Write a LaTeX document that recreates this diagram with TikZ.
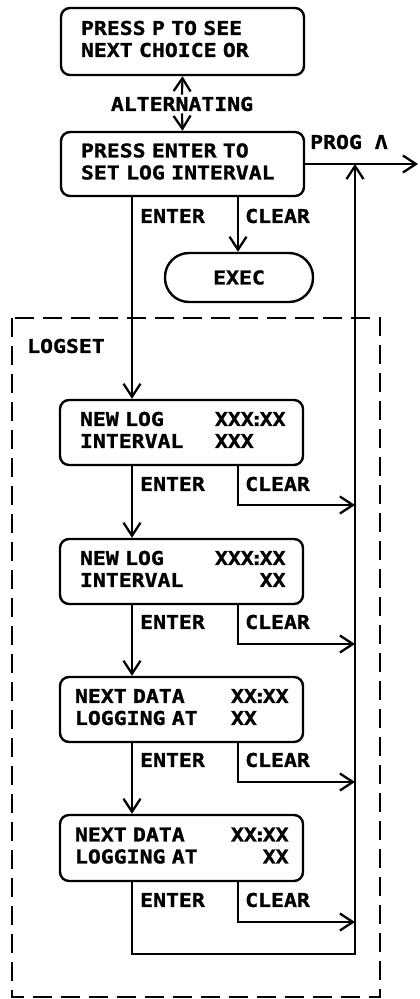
\documentclass[tikz,border=0pt]{standalone}
\usepackage{fontspec}
\usetikzlibrary{arrows.meta}
% display-style lettering: a bold monospace, slightly widened and heavier
\newfontfamily\lcd[FakeStretch=1.13, FakeBold=1.2]{DejaVu Sans Mono Bold}
% fixed character pitch for spaces as well
\newcommand\lcdfont{\lcd\fontsize{19}{22}\selectfont\spaceskip=12.9pt\relax}
\newcommand\clr{\kern-3.5pt:\kern-3.5pt}

\begin{document}
\begin{tikzpicture}[x=1pt,y=-1pt,
  font=\lcdfont,
  lcdbox/.style={draw, line width=2.4pt, rounded corners=9pt,
    minimum width=243pt, minimum height=65pt,
    inner xsep=20pt, text width=203pt, align=left},
  wide/.style={inner xsep=15pt, text width=213pt},
  wire/.style={line width=2.1pt},
  arr/.style={wire, -{Straight Barb[length=13pt,width=17pt,line width=2.3pt]}},
  lbl/.style={anchor=west, inner sep=0pt},
  frame/.style={line width=2.4pt, dash pattern=on 19pt off 9pt},
]
\useasboundingbox (0,0) rectangle (420,999);

% columns used by the connectors
\coordinate (ex) at (132,0);
\coordinate (cx) at (238,0);
\coordinate (rx) at (355,0);

% selection screens
\node[lcdbox, minimum height=67pt] (b1) at (182.5,41.5)
  {\begin{tabular}{@{}l@{}}PRESS P TO SEE\\NEXT CHOICE OR\end{tabular}};
\node[inner sep=2pt] (alt) at (182,104) {ALTERNATING};
\node[lcdbox, minimum height=64pt] (b2) at (182.5,164)
  {\begin{tabular}{@{}l@{}}PRESS ENTER TO\\SET LOG INTERVAL\end{tabular}};
\draw[arr] (alt.north) -- (b1.south);
\draw[arr] (alt.south) -- (b2.north);

\node[lbl] (prog) at (310,142) {PROG Λ};
\coordinate (out) at (418,164);
\draw[arr] (b2.east) -- (out);

\node[draw, line width=2.4pt, rounded corners=24pt,
  minimum width=148pt, minimum height=49pt] (exec) at (239,277.5) {EXEC};

% LOGSET group
\draw[frame] (12,318) rectangle (380,997);
\node[lbl] (logset) at (27,346) {LOGSET};

\node[lcdbox] (b3) at (181.5,432.5)
  {\begin{tabular}{@{}p{135pt}@{}l@{}}NEW LOG & XXX\clr XX\\INTERVAL & XXX\end{tabular}};
\node[lcdbox] (b4) at (181.5,571.5)
  {\begin{tabular}{@{}p{135pt}@{}r@{}}NEW LOG & XXX\clr XX\\INTERVAL & XX\end{tabular}};
\node[lcdbox, wide] (b5) at (181.5,709.5)
  {\begin{tabular}{@{}p{156pt}@{}l@{}}NEXT DATA & XX\clr XX\\LOGGING AT & XX\end{tabular}};
\node[lcdbox, wide, minimum height=66pt] (b6) at (181.5,848)
  {\begin{tabular}{@{}p{156pt}@{}r@{}}NEXT DATA & XX\clr XX\\LOGGING AT & XX\end{tabular}};

% key labels
\node[lbl] (e2) at (140,216) {ENTER};
\node[lbl] (k2) at (245,216) {CLEAR};
\node[lbl] (e3) at (140,484) {ENTER};
\node[lbl] (k3) at (245,484) {CLEAR};
\node[lbl] (e4) at (140,622) {ENTER};
\node[lbl] (k4) at (245,622) {CLEAR};
\node[lbl] (e5) at (140,760) {ENTER};
\node[lbl] (k5) at (245,760) {CLEAR};
\node[lbl] (e6) at (140,900) {ENTER};
\node[lbl] (k6) at (245,900) {CLEAR};

% ENTER transitions
\draw[arr] (b2.south -| ex) -- (b3.north -| ex);
\draw[arr] (b3.south -| ex) -- (b4.north -| ex);
\draw[arr] (b4.south -| ex) -- (b5.north -| ex);
\draw[arr] (b5.south -| ex) -- (b6.north -| ex);

% CLEAR transitions
\draw[arr] (b2.south -| cx) -- (exec.north -| cx);
\coordinate (c3) at (355,505);
\coordinate (c4) at (355,644);
\coordinate (c5) at (355,782);
\coordinate (c6) at (355,922);
\draw[arr] (b3.south -| cx) |- (c3);
\draw[arr] (b4.south -| cx) |- (c4);
\draw[arr] (b5.south -| cx) |- (c5);
\draw[arr] (b6.south -| cx) |- (c6);

% return path from the last screen
\coordinate (loop) at (355,954);
\draw[arr] (b6.south -| ex) |- (loop) -- (b2.east -| rx);
\end{tikzpicture}
\end{document}
